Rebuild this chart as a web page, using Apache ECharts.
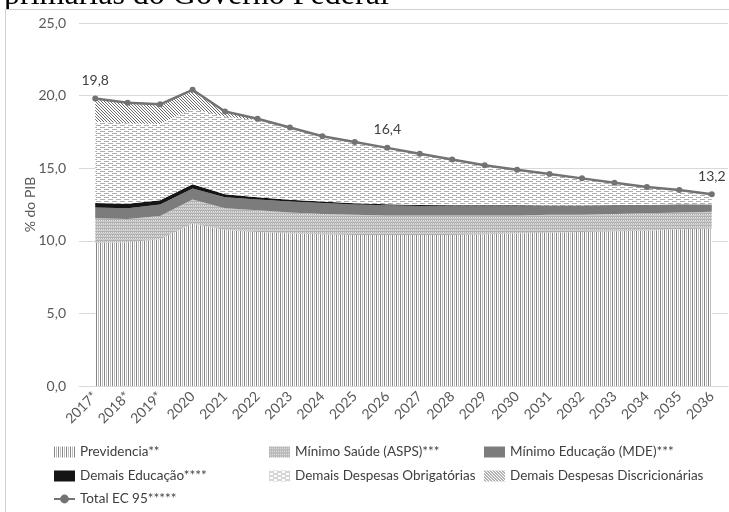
<!DOCTYPE html>
<html>
<head>
<meta charset="utf-8">
<script src="https://cdn.jsdelivr.net/npm/echarts@6/dist/echarts.min.js"></script>
<style>html,body{margin:0;padding:0;background:#fff;}#c{width:729px;height:512px;}</style>
</head>
<body>
<div id="c"></div>
<script>
const years = ['2017*','2018*','2019*','2020','2021','2022','2023','2024','2025','2026','2027','2028','2029','2030','2031','2032','2033','2034','2035','2036'];
const previdencia = [9.85,9.9,10.1,11.2,10.75,10.6,10.5,10.45,10.4,10.4,10.4,10.4,10.45,10.5,10.55,10.6,10.65,10.7,10.8,10.85];
const saude = [1.7,1.6,1.6,1.65,1.5,1.5,1.45,1.4,1.4,1.35,1.35,1.35,1.3,1.25,1.25,1.2,1.2,1.2,1.15,1.15];
const mde = [0.75,0.75,0.8,0.75,0.75,0.75,0.75,0.75,0.7,0.7,0.65,0.65,0.65,0.65,0.6,0.6,0.6,0.55,0.55,0.5];
const demaisEducacao = [0.3,0.3,0.3,0.3,0.2,0.15,0.12,0.1,0.08,0.07,0.06,0.05,0.04,0.04,0.03,0.03,0.02,0.02,0.02,0.02];
const obrigatorias = [5.6,5.55,5.25,5.2,5.35,5.3,4.98,4.5,4.22,3.88,3.54,3.15,2.76,2.46,2.17,1.87,1.53,1.23,0.98,0.68];
const discricionarias = [1.6,1.4,1.35,1.3,0.35,0.1,0,0,0,0,0,0,0,0,0,0,0,0,0,0];
const totalEC95 = [19.8,19.5,19.4,20.4,18.9,18.4,17.8,17.2,16.8,16.4,16.0,15.6,15.2,14.9,14.6,14.3,14.0,13.7,13.5,13.2];
const labelledIdx = [0, 9, 19];
const yTicks = [0, 5, 10, 15, 20, 25];

const names = ['Previdencia**','Mínimo Saúde (ASPS)***','Mínimo Educação (MDE)***','Demais Educação****','Demais Despesas Obrigatórias','Demais Despesas Discricionárias','Total EC 95*****'];
const titleText = 'primarias do Governo Federal';

function pattern(w, h, draw) {
  const c = document.createElement('canvas');
  c.width = w; c.height = h;
  const ctx = c.getContext('2d');
  ctx.fillStyle = '#ffffff';
  ctx.fillRect(0, 0, w, h);
  draw(ctx);
  return { image: c, repeat: 'repeat' };
}
const pPrev = pattern(4, 1, ctx => { ctx.fillStyle = '#858585'; ctx.fillRect(0,0,1,1); ctx.fillStyle = '#bdbdbd'; ctx.fillRect(2,0,1,1); });
const pSaude = pattern(4, 3, ctx => { ctx.fillStyle = '#b0b0b0'; ctx.fillRect(0,0,4,3); ctx.fillStyle = '#e4e4e4'; ctx.fillRect(1,1,1,1); ctx.fillRect(3,1,1,1); ctx.fillStyle='#cbcbcb'; ctx.fillRect(0,2,4,1); });
const pObrig = pattern(8, 4, ctx => { ctx.fillStyle = '#adadad'; ctx.fillRect(0,1,5,1); ctx.fillRect(4,3,4,1); ctx.fillRect(0,3,1,1); });
const pDisc = pattern(3, 3, ctx => { ctx.fillStyle = '#6a6a6a'; ctx.fillRect(0,0,1,1); ctx.fillRect(1,1,1,1); ctx.fillRect(2,2,1,1); });
const cMde = '#7c7c7c';
const cDemais = '#151515';
const cLine = '#737373';

const fills = [pPrev, pSaude, cMde, cDemais, pObrig, pDisc];
const values = [previdencia, saude, mde, demaisEducacao, obrigatorias, discricionarias];

const fmt = v => Number(v).toFixed(1).replace('.', ',');
const FONT = 'Lato';

const series = values.map((arr, i) => ({
  name: names[i],
  type: 'line',
  stack: 'total',
  data: arr,
  symbol: 'none',
  showSymbol: false,
  lineStyle: { width: 0, color: typeof fills[i] === 'string' ? fills[i] : '#999' },
  itemStyle: { color: fills[i] },
  areaStyle: { color: fills[i], opacity: 1 },
  z: 2
}));
series.push({
  name: names[6],
  type: 'line',
  data: totalEC95.map((v, i) => labelledIdx.includes(i) ? { value: v, label: { show: true } } : v),
  symbol: 'circle',
  symbolSize: 6,
  lineStyle: { width: 2.5, color: cLine },
  itemStyle: { color: cLine },
  label: { show: false, position: 'top', distance: 8, formatter: p => fmt(p.value), color: '#404040', fontSize: 14, fontFamily: FONT },
  z: 5
});

const legendPos = [
  [54, 445], [269, 445], [484, 445],
  [54, 469], [269, 469], [484, 469],
  [53, 492]
];
const legends = names.map((n, i) => ({
  left: legendPos[i][0], top: legendPos[i][1], padding: 0,
  itemWidth: 21, itemHeight: 11,
  textStyle: { color: '#404040', fontSize: 13.5, fontFamily: FONT },
  data: [i < 6 ? { name: n, icon: 'rect', itemStyle: { color: fills[i] } } : { name: n }],
  selectedMode: false
}));

const chart = echarts.init(document.getElementById('c'), null, { renderer: 'canvas' });
chart.setOption({
  animation: false,
  backgroundColor: '#ffffff',
  textStyle: { fontFamily: FONT },
  grid: { left: 79, right: 1, top: 23, bottom: 126, containLabel: false },
  graphic: [
    { type: 'text', left: 4, top: -20, z: -3, style: { text: titleText, font: '32px "Liberation Serif"', fill: '#000000' }, silent: true },
    { type: 'rect', shape: { x: 0, y: 9.5, width: 760, height: 560 }, style: { fill: '#ffffff' }, z: -2, silent: true },
    { type: 'rect', shape: { x: 5.5, y: 9.5, width: 760, height: 560 }, style: { fill: 'none', stroke: '#d0d0d0', lineWidth: 1 }, z: -1, silent: true }
  ],
  legend: legends,
  xAxis: {
    type: 'category', data: years, boundaryGap: true,
    axisTick: { show: false },
    axisLine: { lineStyle: { color: '#d9d9d9', width: 1 } },
    axisLabel: { rotate: 45, color: '#595959', fontSize: 14, fontFamily: FONT, margin: 8, interval: 0 }
  },
  yAxis: {
    type: 'value', min: yTicks[0], max: yTicks[yTicks.length - 1], interval: 5,
    name: '% do PIB', nameLocation: 'middle', nameGap: 42, nameRotate: 90, nameMoveOverlap: false,
    nameTextStyle: { color: '#595959', fontSize: 14, fontFamily: FONT },
    axisLine: { show: false }, axisTick: { show: false },
    splitLine: { lineStyle: { color: '#d9d9d9', width: 1 } },
    axisLabel: { formatter: fmt, color: '#595959', fontSize: 14, fontFamily: FONT, margin: 13 }
  },
  series: series
});
</script>
</body>
</html>
